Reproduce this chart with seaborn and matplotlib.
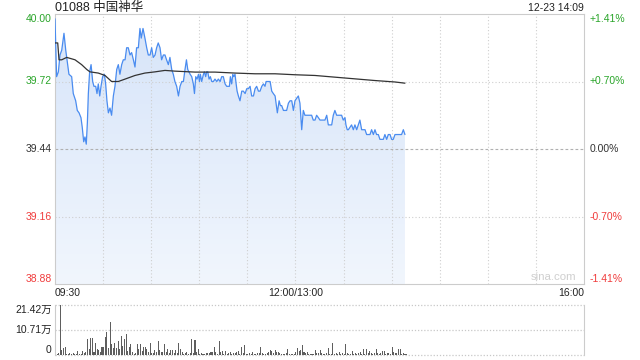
import numpy as np
import matplotlib
matplotlib.use("Agg")
import matplotlib.pyplot as plt
import seaborn as sns
from matplotlib.colors import LinearSegmentedColormap
from matplotlib.patches import PathPatch
from matplotlib.transforms import blended_transform_factory

# ---------------- data ----------------
title = "01088 中国神华"
stamp = "12-23 14:09"
price_ticks = [40.00, 39.72, 39.44, 39.16, 38.88]
price_tick_labels = ["40.00", "39.72", "39.44", "39.16", "38.88"]
pct_labels = ["+1.41%", "+0.70%", "0.00%", "-0.70%", "-1.41%"]
time_ticks = [0, 150, 330]
time_labels = ["09:30", "12:00/13:00", "16:00"]
vol_ticks = [21.42, 10.71, 0]
vol_labels = ["21.42万", "10.71万", "0"]

price_min = [0, 1.0, 2.1, 3.1, 4.2, 5.6, 6.7, 7.9, 8.7, 10.4, 11.4, 12.9, 13.9, 15.0, 16.2,
             17.0, 17.9, 18.7, 19.5, 20.2, 20.8, 21.6, 22.5, 23.5, 24.3, 25.4, 26.2, 27.0, 27.9, 28.7,
             29.7, 30.8, 31.6, 32.4, 33.3, 34.3, 35.3, 36.4, 37.4, 38.5, 39.5, 40.5, 41.6, 42.6, 43.7,
             44.7, 45.7, 46.8, 47.8, 48.9, 49.9, 50.9, 52.0, 53.0, 53.8, 54.9, 56.1, 57.2, 58.2, 59.3,
             60.3, 61.3, 62.4, 63.4, 64.4, 65.5, 66.5, 67.6, 68.6, 69.6, 70.7, 71.7, 72.8, 73.8, 74.8,
             75.9, 77.0, 78.0, 79.1, 80.1, 81.1, 82.0, 82.8, 84.3, 85.3, 86.3, 87.0, 87.8, 88.6, 89.5,
             90.1, 90.7, 91.5, 92.6, 93.2, 94.0, 94.6, 95.3, 96.1, 96.9, 97.8, 98.8, 99.8, 100.9, 101.9,
             103.0, 104.0, 105.0, 106.1, 107.1, 108.2, 108.8, 109.4, 110.2, 110.9, 111.5, 112.3, 113.0, 113.6, 114.4,
             115.4, 116.5, 117.5, 118.6, 119.6, 120.6, 121.7, 122.7, 123.8, 124.8, 125.8, 126.9, 127.9, 129.0, 130.0,
             131.0, 131.7, 132.7, 134.2, 135.2, 136.2, 137.3, 137.9, 138.7, 139.8, 140.6, 141.4, 142.5, 143.5, 144.5,
             145.6, 146.6, 147.7, 148.7, 149.7,
             150.7, 151.8, 152.8, 153.9, 154.9, 155.9, 160.1, 161.1, 162.2, 163.2, 164.3, 165.3, 168.4, 169.5, 170.5,
             172.6, 173.6, 174.6, 175.7, 178.8, 179.8, 180.9, 181.5, 182.3, 183.0, 184.0, 185.0, 186.1, 187.1, 188.2,
             189.2, 190.2, 191.3, 193.4, 194.4, 196.5, 197.5, 198.6, 199.6, 200.6, 201.7, 202.7, 204.8, 205.8, 206.9,
             207.9, 209.0, 210.0, 211.0, 212.1, 216.2, 217.3, 218.3]
price_val = [39.98, 39.74, 39.76, 39.83, 39.85, 39.92, 39.85, 39.79, 39.75, 39.74, 39.67, 39.64, 39.60, 39.59, 39.57,
             39.53, 39.47, 39.49, 39.46, 39.55, 39.67, 39.76, 39.79, 39.72, 39.70, 39.70, 39.67, 39.71, 39.66, 39.70,
             39.74, 39.75, 39.71, 39.64, 39.59, 39.61, 39.58, 39.66, 39.70, 39.77, 39.79, 39.75, 39.79, 39.81, 39.81,
             39.86, 39.86, 39.83, 39.84, 39.81, 39.78, 39.86, 39.86, 39.94, 39.90, 39.94, 39.90, 39.86, 39.83, 39.83,
             39.86, 39.82, 39.83, 39.86, 39.88, 39.86, 39.81, 39.83, 39.83, 39.81, 39.79, 39.82, 39.77, 39.75, 39.72,
             39.70, 39.66, 39.70, 39.72, 39.72, 39.77, 39.81, 39.77, 39.75, 39.74, 39.71, 39.67, 39.74, 39.73, 39.75,
             39.72, 39.75, 39.72, 39.75, 39.76, 39.74, 39.76, 39.76, 39.73, 39.74, 39.72, 39.72, 39.73, 39.72, 39.73,
             39.72, 39.74, 39.74, 39.71, 39.70, 39.70, 39.70, 39.74, 39.71, 39.75, 39.74, 39.75, 39.71, 39.68, 39.66,
             39.64, 39.68, 39.68, 39.67, 39.69, 39.69, 39.70, 39.66, 39.66, 39.69, 39.70, 39.68, 39.68, 39.70, 39.71,
             39.70, 39.72, 39.72, 39.72, 39.68, 39.67, 39.66, 39.63, 39.59, 39.64, 39.62, 39.62, 39.60, 39.60, 39.60,
             39.63, 39.64, 39.64, 39.60, 39.64,
             39.65, 39.66, 39.63, 39.52, 39.60, 39.58, 39.58, 39.56, 39.56, 39.58, 39.57, 39.56, 39.56, 39.58, 39.54,
             39.54, 39.58, 39.60, 39.58, 39.58, 39.56, 39.57, 39.54, 39.52, 39.52, 39.53, 39.54, 39.52, 39.54, 39.52,
             39.54, 39.56, 39.52, 39.52, 39.50, 39.50, 39.52, 39.50, 39.52, 39.50, 39.50, 39.48, 39.48, 39.50, 39.48,
             39.50, 39.50, 39.48, 39.48, 39.50, 39.50, 39.52, 39.50]

avg_min = [0, 1.7, 2.5, 4.2, 7.3, 12.5, 16.6, 19.8, 21.8, 27.0, 31.2, 35.3, 39.5, 43.7, 49.9, 56.1,
           62.4, 68.6, 74.8, 87.4, 99.8, 112.3, 124.8, 137.3, 149.7, 162.2, 174.6, 187.1, 199.6, 212.1, 218.3]
avg_val = [39.88, 39.88, 39.81, 39.81, 39.82, 39.81, 39.79, 39.77, 39.76, 39.755, 39.745, 39.72, 39.72, 39.73,
           39.745, 39.755, 39.76, 39.766, 39.763, 39.759, 39.759, 39.755, 39.752, 39.752, 39.748, 39.745, 39.738,
           39.731, 39.724, 39.718, 39.713]

# volume per minute, in 万
volume = [18.9, 0.5, 0.8, 21.4, 2.1, 2.9, 3.3, 0.4, 0.3, 0.7, 0.4, 1.0, 0.4, 0.3, 1.7, 0.3, 0.4, 1.7, 1.0, 1.4,
          6.9, 2.4, 7.1, 7.1, 1.4, 5.0, 2.4, 2.1, 1.4, 3.3, 3.3, 7.6, 9.9, 2.9, 14.1, 4.6, 2.9, 5.0, 2.9, 6.0,
          2.4, 8.1, 3.9, 6.7, 9.0, 1.9, 3.6, 4.7, 1.4, 0.4, 0.7, 4.7, 2.4, 4.7, 1.9, 3.3, 3.6, 2.4, 1.4, 5.3,
          1.0, 0.7, 2.1, 1.4, 6.0, 2.1, 1.4, 1.4, 4.7, 1.4, 2.4, 0.7, 2.1,
          2.1, 1.0, 2.1, 0.7, 5.3, 2.6, 1.4, 0.4, 1.0, 1.4, 0.4, 0.7, 6.9, 1.0, 6.4, 1.4, 2.6, 0.4, 1.0, 0.3,
          0.4, 0.7, 0.7, 1.0, 1.4, 1.1, 3.3, 1.4, 0.3, 6.0, 1.1, 1.7, 0.4, 1.7, 0.4, 0.7, 1.1, 0.4, 0.7, 1.0,
          1.4, 1.9, 0.4, 3.3, 1.0, 4.3, 0.4, 0.4, 0.7, 0.3, 1.1, 0.4, 0.3, 0.7, 1.0, 3.3, 0.7, 0.3, 0.4, 0.7,
          1.4, 2.1, 1.9, 0.7, 2.1, 1.1, 1.4, 0.7, 0.3, 0.4, 0.3, 0.7, 2.6, 0.4,
          0.4, 0.3, 0.4, 1.4, 2.9, 1.9, 2.1, 4.3, 1.4, 1.0, 1.4, 0.4, 0.3, 0.4, 0.4, 2.1, 1.0, 1.0, 2.1, 0.7,
          0.4, 0.4, 0.7, 2.9, 0.4, 0.3, 5.3, 0.4, 0.7, 0.4, 1.4, 0.4, 0.7, 0.4, 4.7, 0.7, 0.4, 0.3, 1.7, 0.3,
          1.0, 0.3, 0.7, 1.1, 0.4, 2.4, 0.4, 2.4, 0.7, 1.7, 0.7, 0.4, 0.7, 2.4, 0.7, 0.3, 0.7, 1.9, 1.9, 0.4,
          0.7, 0.7, 0.4, 3.3, 1.4, 0.7, 1.0, 2.4, 2.4, 0.4, 0.7, 0.3, 0.3]
vol_min = list(range(len(volume)))

# ---------------- style ----------------
sns.set_theme(style="white")
plt.rcParams["font.family"] = ["Liberation Sans", "Noto Sans CJK SC", "DejaVu Sans"]

GREEN = "#2aa52a"
RED = "#f03c3c"
DARK = "#333333"
label_colors = [GREEN, GREEN, DARK, RED, RED]
grid_c = "#cfcfcf"
frame_c = "#cccccc"

W, H = 640, 360
fig = plt.figure(figsize=(6.4, 3.6), dpi=100)
fig.patch.set_facecolor("white")
ax = fig.add_axes([55 / W, 76 / H, 529 / W, 270 / H])
vax = fig.add_axes([55 / W, 5 / H, 529 / W, 50 / H])

# ---------------- main price panel ----------------
poly = ax.fill_between(price_min, price_val, price_ticks[-1], color="none", lw=0)
cmap = LinearSegmentedColormap.from_list("g", ["#d6e4f9", "#f1f6fd"])
grad = np.linspace(0, 1, 256).reshape(-1, 1)
im = ax.imshow(grad, extent=[0, 330, price_ticks[-1], price_ticks[0]], aspect="auto",
               cmap=cmap, origin="upper", zorder=1, interpolation="bilinear")
clip = PathPatch(poly.get_paths()[0], transform=ax.transData, fc="none", ec="none")
ax.add_patch(clip)
im.set_clip_path(clip)

for x in range(30, 330, 30):
    ax.axvline(x, color=grid_c, lw=0.8, ls=(0, (1, 2)), zorder=2)
ax.axhline(price_ticks[1], color=grid_c, lw=0.8, ls=(0, (1, 2)), zorder=2)
ax.axhline(price_ticks[3], color=grid_c, lw=0.8, ls=(0, (1, 2)), zorder=2)
ax.axhline(price_ticks[2], color="#b0b0b0", lw=0.8, ls=(0, (2.5, 2)), zorder=2)

sns.lineplot(x=price_min, y=price_val, ax=ax, color="#4a8cf0", lw=0.9,
             estimator=None, sort=False, zorder=3)
sns.lineplot(x=avg_min, y=avg_val, ax=ax, color="#333333", lw=0.9,
             estimator=None, sort=False, zorder=3)

ax.set_xlim(0, 330)
ax.set_ylim(price_ticks[-1], price_ticks[0])
ax.set_xticks([])
ax.set_yticks([])
ax.set_xlabel("")
ax.set_ylabel("")
for s in ax.spines.values():
    s.set_color(frame_c)
    s.set_linewidth(0.8)
    s.set_visible(True)

trL = blended_transform_factory(ax.transAxes, ax.transData)
vas = ["top", "center", "center", "center", "bottom"]
for v, lab, pl, c, va in zip(price_ticks, price_tick_labels, pct_labels, label_colors, vas):
    ax.text(-0.006, v, lab, transform=trL, ha="right", va=va, fontsize=7.5, color=c)
    ax.text(1.011, v, pl, transform=trL, ha="left", va=va, fontsize=7.5, color=c)

trX = blended_transform_factory(ax.transData, fig.transFigure)
for t, lab, ha in zip(time_ticks, time_labels, ["left", "center", "right"]):
    ax.text(t, 1 - 293 / H, lab, transform=trX, ha=ha, va="center", fontsize=7.5, color="#222222")

fig.text(55 / W, 1 - 8 / H, title, ha="left", va="center", fontsize=9, color="#222222")
fig.text(584 / W, 1 - 8 / H, stamp, ha="right", va="center", fontsize=7.5, color="#222222")
ax.text(0.942, 0.025, "sina.com", transform=ax.transAxes, ha="center", va="center",
        fontsize=8.2, color="#cfcfcf")

# ---------------- volume panel ----------------
vax.bar(vol_min, volume, width=0.65, align="edge", color="#5e5e5e", linewidth=0, zorder=2)
vax.set_xlim(0, 330)
vax.set_ylim(0, vol_ticks[0])
vax.set_xticks([])
vax.set_yticks([])
for side in ["top", "bottom"]:
    vax.spines[side].set_visible(False)
for side in ["left", "right"]:
    vax.spines[side].set_color(frame_c)
    vax.spines[side].set_linewidth(0.8)
for v in vol_ticks:
    vax.axhline(v, color="#c8c8c8", lw=0.9, ls=(0, (1, 1.5)), zorder=1, clip_on=False)

trV = blended_transform_factory(vax.transAxes, vax.transData)
for v, lab, va in zip(vol_ticks, vol_labels, ["top", "center", "bottom"]):
    vax.text(-0.006, v, lab, transform=trV, ha="right", va=va, fontsize=7.5, color="#222222")

fig.savefig("out.png", dpi=100, facecolor="white")
